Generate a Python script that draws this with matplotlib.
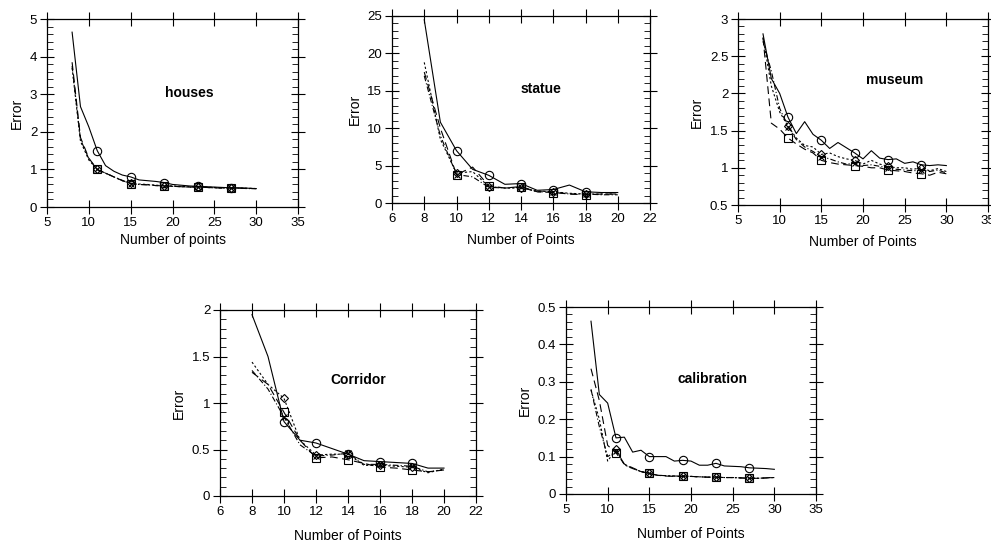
import matplotlib
matplotlib.use("Agg")
import matplotlib.pyplot as plt
from matplotlib.ticker import AutoMinorLocator, MultipleLocator, FormatStrFormatter

plt.rcParams['font.family'] = ['Liberation Sans', 'DejaVu Sans']

# ---------------- data ----------------
houses_x = list(range(8, 31))
houses_marks = [11, 15, 19, 23, 27]
houses_solid = [4.65, 2.67, 2.13, 1.5, 1.1, 0.95, 0.85, 0.8, 0.72, 0.7, 0.68, 0.65, 0.6, 0.58, 0.56, 0.55, 0.54, 0.53, 0.52, 0.51, 0.51, 0.5, 0.49]
houses_dash = [3.85, 1.85, 1.3, 1.0, 0.9, 0.8, 0.7, 0.62, 0.6, 0.59, 0.57, 0.56, 0.55, 0.54, 0.53, 0.53, 0.52, 0.51, 0.5, 0.5, 0.5, 0.49, 0.49]
houses_dot = [3.7, 1.75, 1.25, 1.0, 0.9, 0.8, 0.7, 0.63, 0.61, 0.6, 0.58, 0.57, 0.56, 0.55, 0.54, 0.54, 0.53, 0.52, 0.51, 0.51, 0.5, 0.5, 0.49]
houses_dashdot = [3.75, 1.8, 1.28, 1.0, 0.9, 0.8, 0.71, 0.62, 0.6, 0.59, 0.57, 0.56, 0.55, 0.54, 0.53, 0.53, 0.52, 0.51, 0.51, 0.5, 0.5, 0.49, 0.49]

statue_x = list(range(8, 21))
statue_marks = [10, 12, 14, 16, 18]
statue_solid = [24.5, 10.8, 7.0, 4.5, 3.7, 2.5, 2.6, 1.7, 1.8, 2.4, 1.5, 1.4, 1.4]
statue_dash = [17.5, 10.0, 3.8, 4.8, 2.3, 2.0, 2.2, 1.5, 1.4, 1.2, 1.1, 1.2, 1.2]
statue_dot = [18.8, 8.5, 4.0, 4.2, 2.2, 2.0, 2.0, 1.6, 1.5, 1.3, 1.2, 1.2, 1.2]
statue_dashdot = [17.0, 9.0, 3.8, 3.5, 2.1, 2.0, 2.1, 1.5, 1.5, 1.2, 1.2, 1.1, 1.1]

museum_x = list(range(8, 31))
museum_marks = [11, 15, 19, 23, 27]
museum_solid = [2.8, 2.2, 2.0, 1.68, 1.46, 1.62, 1.45, 1.37, 1.26, 1.34, 1.27, 1.2, 1.12, 1.23, 1.13, 1.11, 1.12, 1.06, 1.08, 1.04, 1.03, 1.04, 1.03]
museum_dash = [2.75, 1.6, 1.52, 1.4, 1.32, 1.25, 1.2, 1.1, 1.07, 1.05, 1.04, 1.03, 1.02, 1.0, 1.0, 0.97, 0.96, 0.95, 0.93, 0.92, 0.9, 0.94, 0.92]
museum_dot = [2.75, 2.1, 1.75, 1.56, 1.4, 1.3, 1.28, 1.18, 1.2, 1.15, 1.12, 1.1, 1.05, 1.1, 1.05, 1.02, 1.0, 1.0, 0.98, 1.0, 0.96, 0.99, 0.95]
museum_dashdot = [2.7, 2.3, 1.8, 1.55, 1.38, 1.28, 1.22, 1.15, 1.12, 1.08, 1.05, 1.06, 1.03, 1.04, 1.02, 1.0, 0.98, 0.97, 0.96, 0.97, 0.95, 0.97, 0.93]

corridor_x = list(range(8, 21))
corridor_marks = [10, 12, 14, 16, 18]
corridor_solid = [1.95, 1.5, 0.8, 0.6, 0.57, 0.51, 0.45, 0.38, 0.37, 0.36, 0.35, 0.3, 0.3]
corridor_dash = [1.33, 1.2, 0.9, 0.6, 0.41, 0.42, 0.39, 0.35, 0.31, 0.3, 0.28, 0.26, 0.28]
corridor_dot = [1.44, 1.2, 1.05, 0.6, 0.44, 0.45, 0.45, 0.33, 0.33, 0.32, 0.31, 0.25, 0.29]
corridor_dashdot = [1.35, 1.15, 0.85, 0.55, 0.43, 0.44, 0.46, 0.34, 0.34, 0.33, 0.32, 0.26, 0.28]

calib_x = list(range(8, 31))
calib_marks = [11, 15, 19, 23, 27]
calib_solid = [0.462, 0.266, 0.243, 0.15, 0.152, 0.112, 0.117, 0.1, 0.1, 0.1, 0.088, 0.09, 0.088, 0.077, 0.077, 0.082, 0.075, 0.074, 0.073, 0.07, 0.069, 0.068, 0.066]
calib_dash = [0.335, 0.25, 0.13, 0.11, 0.08, 0.07, 0.06, 0.055, 0.05, 0.048, 0.047, 0.047, 0.047, 0.046, 0.045, 0.045, 0.044, 0.044, 0.043, 0.042, 0.042, 0.043, 0.045]
calib_dot = [0.278, 0.2, 0.088, 0.12, 0.078, 0.068, 0.06, 0.055, 0.05, 0.049, 0.048, 0.048, 0.047, 0.046, 0.045, 0.045, 0.044, 0.044, 0.043, 0.042, 0.042, 0.043, 0.044]
calib_dashdot = [0.28, 0.18, 0.1, 0.115, 0.08, 0.068, 0.06, 0.055, 0.05, 0.049, 0.048, 0.048, 0.047, 0.046, 0.045, 0.045, 0.044, 0.044, 0.043, 0.042, 0.042, 0.043, 0.044]

# ---------------- layout ----------------
W, H = 991, 541
fig = plt.figure(figsize=(W / 100, H / 100), dpi=100)


def add_ax(left, right, top, bottom):
    return fig.add_axes([left / W, 1 - bottom / H, (right - left) / W, (bottom - top) / H])


panels = [
    dict(box=(47, 298, 19, 207), x=houses_x, marks=houses_marks,
         ys=(houses_solid, houses_dash, houses_dot, houses_dashdot),
         xlim=(5, 35), xstep=5, ylim=(0, 5), ystep=1, name='houses',
         xlabel='Number of points', txt=(0.566, 0.606), lpad=3),
    dict(box=(392, 650, 16, 203), x=statue_x, marks=statue_marks,
         ys=(statue_solid, statue_dash, statue_dot, statue_dashdot),
         xlim=(6, 22), xstep=2, ylim=(0, 25), ystep=5, name='statue',
         xlabel='Number of Points', txt=(0.576, 0.608), lpad=6),
    dict(box=(738, 988, 19, 205), x=museum_x, marks=museum_marks,
         ys=(museum_solid, museum_dash, museum_dot, museum_dashdot),
         xlim=(5, 35), xstep=5, ylim=(0.5, 3), ystep=0.5, name='museum',
         xlabel='Number of Points', txt=(0.625, 0.672), lpad=6),
    dict(box=(220, 476, 310, 496), x=corridor_x, marks=corridor_marks,
         ys=(corridor_solid, corridor_dash, corridor_dot, corridor_dashdot),
         xlim=(6, 22), xstep=2, ylim=(0, 2), ystep=0.5, name='Corridor',
         xlabel='Number of Points', txt=(0.539, 0.624), lpad=8),
    dict(box=(566, 816, 307, 494), x=calib_x, marks=calib_marks,
         ys=(calib_solid, calib_dash, calib_dot, calib_dashdot),
         xlim=(5, 35), xstep=5, ylim=(0, 0.5), ystep=0.1, name='calibration',
         xlabel='Number of Points', txt=(0.584, 0.613), lpad=8),
]

styles = [
    dict(linestyle='-', marker='o', markersize=6),
    dict(linestyle=(0, (7, 4)), marker='s', markersize=6),
    dict(linestyle=(0, (2, 2)), marker='D', markersize=4),
    dict(linestyle=(0, (5, 2, 1, 2)), marker='x', markersize=4),
]

for p in panels:
    ax = add_ax(*p['box'])
    idx = [i for i, v in enumerate(p['x']) if v in p['marks']]
    for y, st in zip(p['ys'], styles):
        ax.plot(p['x'], y, color='black', linewidth=0.8, markevery=idx,
                markerfacecolor='none', markeredgecolor='black',
                markeredgewidth=0.8, **st)
    ax.set_xlim(*p['xlim'])
    ax.set_ylim(*p['ylim'])
    ax.xaxis.set_major_locator(MultipleLocator(p['xstep']))
    ax.yaxis.set_major_locator(MultipleLocator(p['ystep']))
    ax.yaxis.set_major_formatter(FormatStrFormatter('%g'))
    ax.yaxis.set_minor_locator(AutoMinorLocator(5))
    ax.tick_params(which='major', direction='inout', length=10, width=0.8,
                   top=True, right=True, labelsize=9.5, pad=2)
    ax.tick_params(which='minor', direction='in', length=4, width=0.6,
                   left=True, right=True, bottom=False, top=False)
    for s in ax.spines.values():
        s.set_linewidth(0.9)
    ax.set_xlabel(p['xlabel'], fontsize=10, labelpad=p['lpad'])
    ax.set_ylabel('Error', fontsize=10, labelpad=4)
    ax.text(p['txt'][0], p['txt'][1], p['name'], transform=ax.transAxes,
            ha='center', va='center', fontsize=10, fontweight='bold')

fig.savefig('out.png', dpi=100)
